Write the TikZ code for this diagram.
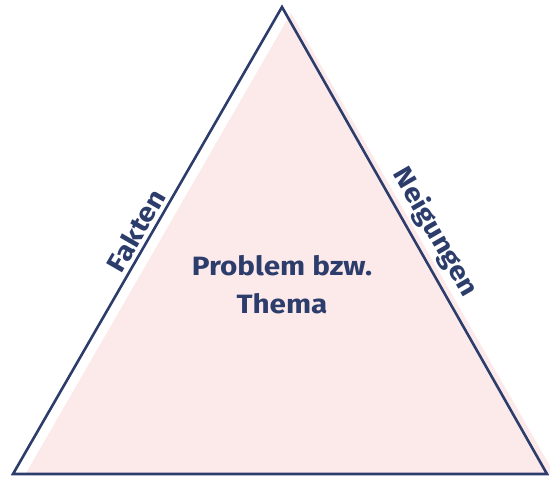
\documentclass[tikz,border=0pt]{standalone}
\usepackage{fontspec}
\setmainfont{Fira Sans}
\newfontfamily\lblfont{Fira Sans}[FakeStretch=1.12]
\usetikzlibrary{calc}
\definecolor{navy}{HTML}{2C3D6C}
\definecolor{rose}{HTML}{FCEAEB}
\begin{document}
\begin{tikzpicture}[x=1pt,y=-1pt,
  lbl/.style={text=navy,font=\lblfont\bfseries\fontsize{26.5}{38}\selectfont,inner sep=0pt},
  edge/.style={draw=navy,line width=2.6pt,line join=miter}]
\useasboundingbox (0,0) rectangle (550,478);
\fill[rose] (291,13) -- (25.5,474) -- (554.6,474) -- cycle;
\coordinate (A) at (282,7);
\coordinate (B) at (13,474);
\coordinate (C) at (547,474);
\draw[edge] (A) -- (B) -- (C) -- cycle;
\node[lbl,align=center] (center) at (282,285) {Problem bzw.\\Thema};
\node[lbl,rotate=60,anchor=south] (fakten) at ($(B)!0.505!(A)+(-4,-2.5)$) {Fakten};
\node[lbl,rotate=-60,anchor=south] (neig) at ($(A)!0.506!(C)+(7,-4)$) {Neigungen};
\end{tikzpicture}
\end{document}
